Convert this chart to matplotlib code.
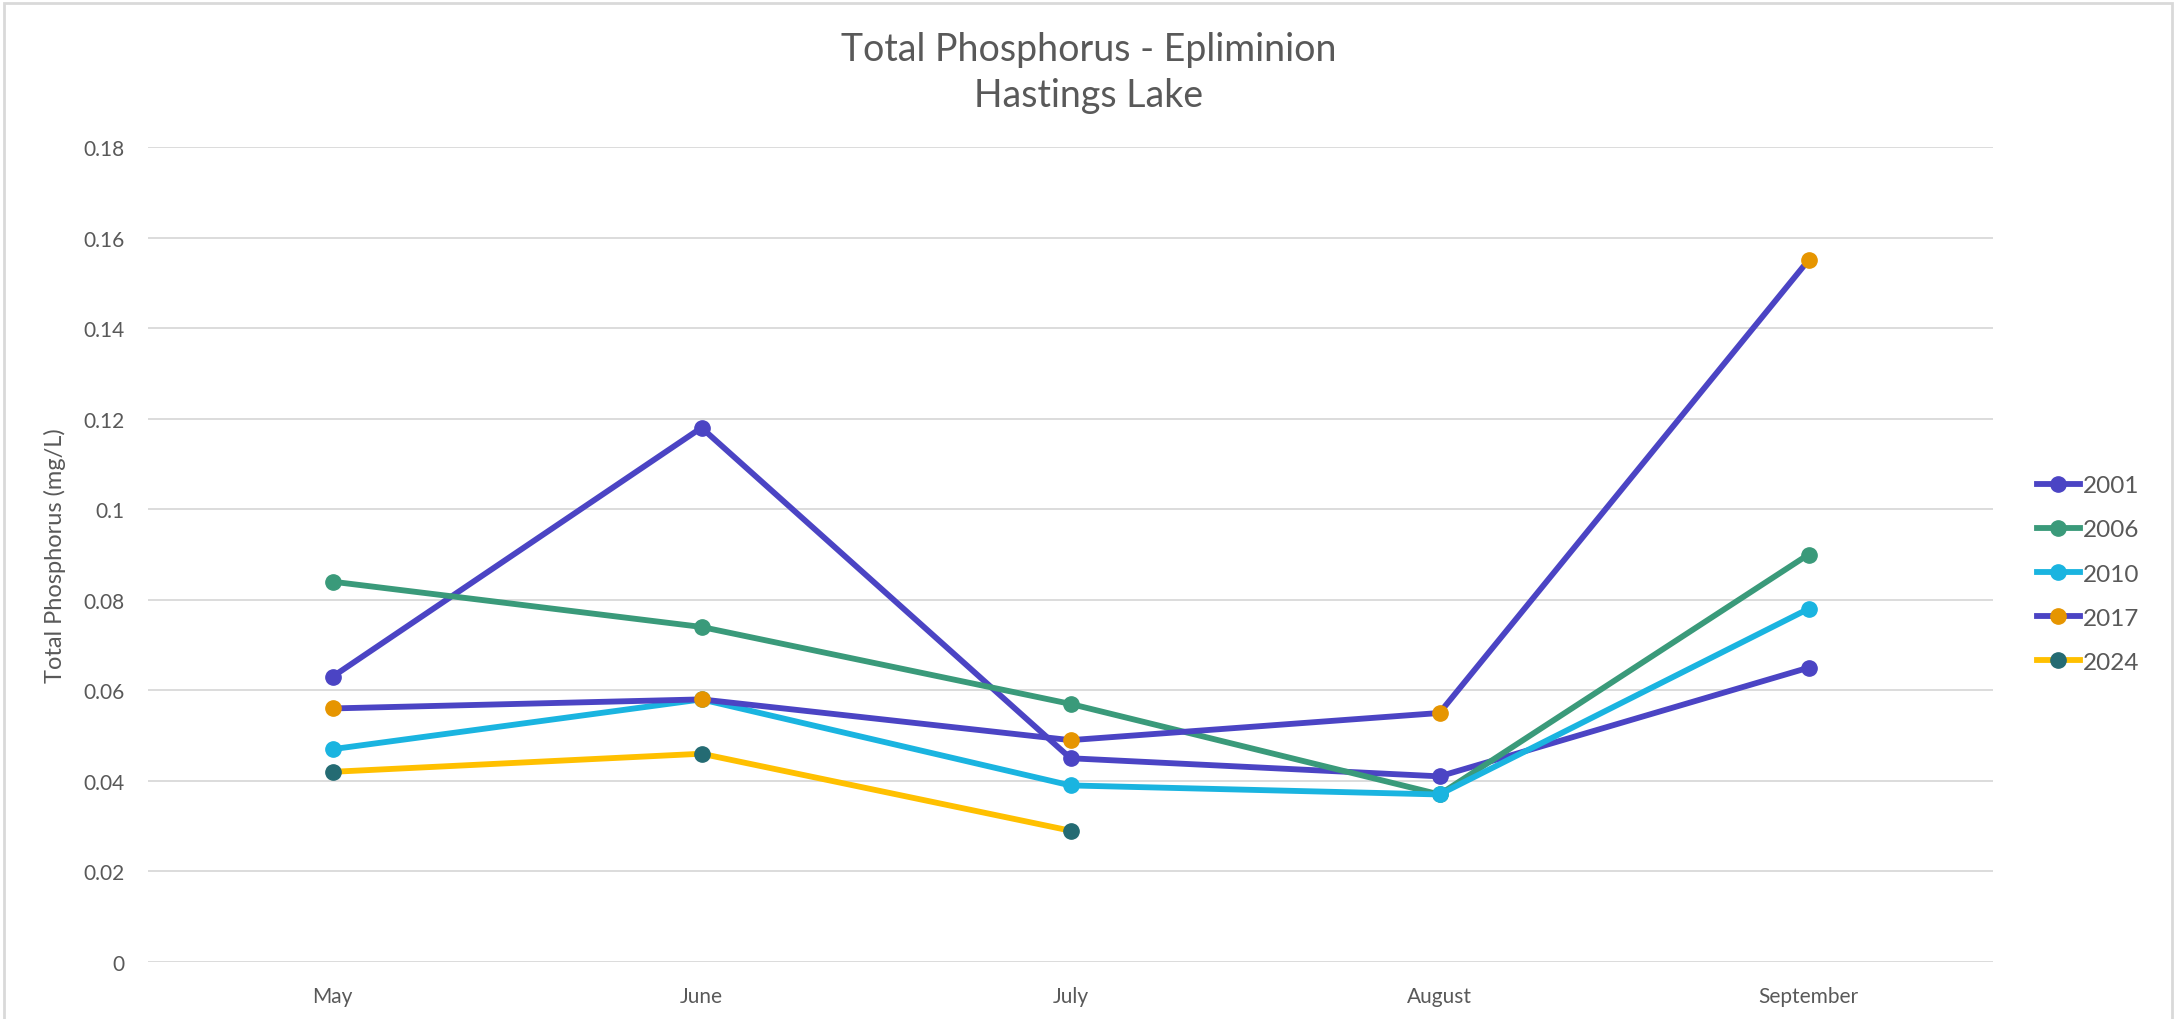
import matplotlib.pyplot as plt
from matplotlib.patches import Rectangle

# data
months = ['May', 'June', 'July', 'August', 'September']
years = ['2001', '2006', '2010', '2017', '2024']
tp_2001 = [0.063, 0.118, 0.045, 0.041, 0.065]
tp_2006 = [0.084, 0.074, 0.057, 0.037, 0.090]
tp_2010 = [0.047, 0.058, 0.039, 0.037, 0.078]
tp_2017 = [0.056, 0.058, 0.049, 0.055, 0.155]
tp_2024 = [0.042, 0.046, 0.029]

series = [tp_2001, tp_2006, tp_2010, tp_2017, tp_2024]
line_colors = ['#4B44C4', '#3A9A7A', '#1AB4E0', '#4B44C4', '#FFC000']
marker_colors = ['#4B44C4', '#3A9A7A', '#1AB4E0', '#E69500', '#246B73']

plt.rcParams['font.family'] = ['Lato', 'DejaVu Sans']
text_col = '#595959'

fig = plt.figure(figsize=(21.77, 10.2), dpi=100)
ax = fig.add_axes([148 / 2177, 1 - 963 / 1020, (1993 - 148) / 2177, (963 - 148) / 1020])

x = list(range(len(months)))
for yr, vals, lc, mc in zip(years, series, line_colors, marker_colors):
    ax.plot(x[:len(vals)], vals, color=lc, lw=4.2, marker='o', ms=11,
            markerfacecolor=mc, markeredgecolor=mc, label=yr, zorder=3)

ax.set_xlim(-0.5, 4.5)
ax.set_ylim(0, 0.18)
yt = [0, 0.02, 0.04, 0.06, 0.08, 0.1, 0.12, 0.14, 0.16, 0.18]
ax.set_yticks(yt)
ax.set_yticklabels(['0' if v == 0 else f'{v:g}' for v in yt])
ax.set_xticks(x)
ax.set_xticklabels(months)
ax.grid(axis='y', color='#D9D9D9', lw=1.3)
ax.set_axisbelow(True)
for s in ax.spines.values():
    s.set_visible(False)
ax.tick_params(length=0, labelsize=15, labelcolor=text_col)
ax.tick_params(axis='y', pad=17)
ax.tick_params(axis='x', pad=17)

ax.set_ylabel('Total Phosphorus (mg/L)', fontsize=17, color=text_col, labelpad=12)

fig.text(0.5, 1 - 50 / 1020, 'Total Phosphorus - Epliminion', ha='center', va='center',
         fontsize=27, color=text_col)
fig.text(0.5, 1 - 96 / 1020, 'Hastings Lake', ha='center', va='center',
         fontsize=27, color=text_col)

leg = ax.legend(loc='center left', bbox_to_anchor=(1.012, 0.476), frameon=False,
                fontsize=17.5, labelcolor=text_col, handlelength=1.75,
                handletextpad=0.15, labelspacing=0.95)

# chart border
fig.patches.append(Rectangle((4 / 2177, -0.01), 2168 / 2177, 1 - 4 / 1020 + 0.01,
                             transform=fig.transFigure, fill=False,
                             edgecolor='#D9D9D9', lw=2))

fig.savefig('out.png', dpi=100)
